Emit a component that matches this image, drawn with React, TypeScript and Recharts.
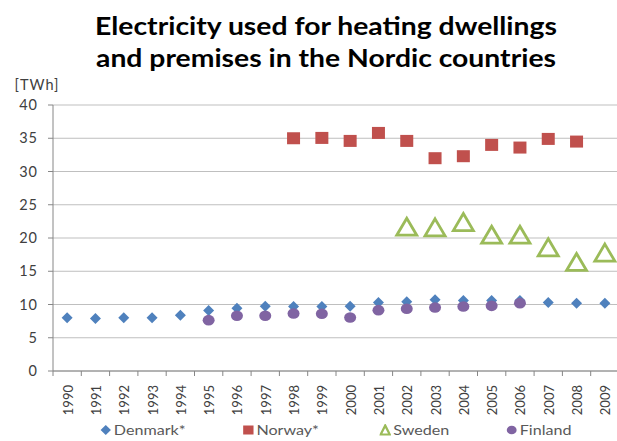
import React from 'react';
import { ComposedChart, Line, XAxis, YAxis, CartesianGrid, Legend } from 'recharts';

const years = ['1990', '1991', '1992', '1993', '1994', '1995', '1996', '1997', '1998', '1999',
  '2000', '2001', '2002', '2003', '2004', '2005', '2006', '2007', '2008', '2009'];

const denmark = [8.0, 7.9, 8.0, 8.0, 8.4, 9.1, 9.45, 9.75, 9.7, 9.7,
  9.75, 10.3, 10.4, 10.7, 10.6, 10.6, 10.6, 10.3, 10.2, 10.2];
const norway = [null, null, null, null, null, null, null, null, 35.0, 35.05,
  34.6, 35.8, 34.6, 32.0, 32.3, 34.0, 33.6, 34.9, 34.5, null];
const sweden = [null, null, null, null, null, null, null, null, null, null,
  null, null, 21.7, 21.6, 22.4, 20.5, 20.5, 18.6, 16.4, 17.8];
const finland = [null, null, null, null, null, 7.65, 8.3, 8.3, 8.65, 8.6,
  8.05, 9.15, 9.35, 9.55, 9.7, 9.8, 10.2, null, null, null];

const yTicks = [0, 5, 10, 15, 20, 25, 30, 35, 40];

const data = years.map((year, i) => ({
  year,
  denmark: denmark[i],
  norway: norway[i],
  sweden: sweden[i],
  finland: finland[i],
}));

const COLORS = {
  denmark: '#4f81bd',
  norway: '#c0504d',
  sweden: '#9bbb59',
  finland: '#8064a2',
};

const FONT = 'Lato, "Liberation Sans", sans-serif';
const AXIS = '#868686';

const DiamondDot = (p: any) => {
  if (p.cy == null || p.value == null) return <g key={p.key} />;
  const s = 5.5;
  return (
    <path key={p.key} d={`M${p.cx},${p.cy - s}L${p.cx + s},${p.cy}L${p.cx},${p.cy + s}L${p.cx - s},${p.cy}Z`}
      fill={COLORS.denmark} />
  );
};

const SquareDot = (p: any) => {
  if (p.cy == null || p.value == null) return <g key={p.key} />;
  return <rect key={p.key} x={p.cx - 6.5} y={p.cy - 6} width={13} height={12} fill={COLORS.norway} />;
};

const TriangleDot = (p: any) => {
  if (p.cy == null || p.value == null) return <g key={p.key} />;
  const w = 10;
  const h = 8.5;
  return (
    <path key={p.key} d={`M${p.cx},${p.cy - h}L${p.cx + w},${p.cy + h}L${p.cx - w},${p.cy + h}Z`}
      fill="none" stroke={COLORS.sweden} strokeWidth={2.8} strokeLinejoin="miter" />
  );
};

const CircleDot = (p: any) => {
  if (p.cy == null || p.value == null) return <g key={p.key} />;
  return <ellipse key={p.key} cx={p.cx} cy={p.cy} rx={6} ry={5.3} fill={COLORS.finland} />;
};

const YearTick = (props: any) => {
  const { x, y, payload } = props;
  const half = payload.offset || 14.15;
  return (
    <g>
      <line x1={x - half} y1={y} x2={x - half} y2={y + 5} stroke={AXIS} />
      <text x={x + 1} y={y + 14} dy="0.35em" transform={`rotate(-90, ${x + 1}, ${y + 14})`}
        textAnchor="end" fontSize={13} fontFamily={FONT} fill="#404040">
        {payload.value}
      </text>
    </g>
  );
};

const legendItems = [
  { name: 'Denmark*', key: 'denmark', w: 124 },
  { name: 'Norway*', key: 'norway', w: 119 },
  { name: 'Sweden', key: 'sweden', w: 110 },
  { name: 'Finland', key: 'finland', w: 70 },
];

const LegendIcon = ({ k }: { k: string }) => {
  if (k === 'denmark') return <svg width={10} height={12}><path d="M5,1L9.5,6L5,11L0.5,6Z" fill={COLORS.denmark} /></svg>;
  if (k === 'norway') return <svg width={10} height={12}><rect x={0.5} y={1.5} width={9} height={9} fill={COLORS.norway} /></svg>;
  if (k === 'sweden') return <svg width={10} height={12}><path d="M5,1.5L9,10.5L1,10.5Z" fill="none" stroke={COLORS.sweden} strokeWidth={2} /></svg>;
  return <svg width={10} height={12}><circle cx={5} cy={6} r={4.3} fill={COLORS.finland} /></svg>;
};

const LegendContent = () => (
  <div style={{
    display: 'flex', alignItems: 'center', fontFamily: FONT, fontSize: 14, color: '#595959',
    transform: 'scaleX(1.15)', transformOrigin: '0 0',
  }}>
    {legendItems.map((it) => (
      <div key={it.key} style={{ display: 'flex', alignItems: 'center', gap: 2, width: it.w }}>
        <LegendIcon k={it.key} />
        <span>{it.name}</span>
      </div>
    ))}
  </div>
);

const App: React.FC = () => {
  return (
    <div style={{ position: 'absolute', left: 0, top: 0, width: 617, height: 441, overflow: 'hidden', background: '#fff' }}>
      <div style={{
        position: 'absolute', left: 0, top: 10, width: 652, textAlign: 'center',
        fontFamily: FONT, fontWeight: 700, fontSize: 24, lineHeight: '32px', color: '#000',
        transform: 'scaleX(1.18)', transformOrigin: '326px 0',
      }}>
        Electricity used for heating dwellings<br />and premises in the Nordic countries
      </div>
      <ComposedChart width={640} height={441} data={data} margin={{ top: 105, right: 21, left: 0, bottom: 0 }}>
        <CartesianGrid vertical={false} stroke="#bfbfbf" />
        <XAxis dataKey="year" scale="band" height={50} axisLine={{ stroke: AXIS }} tickLine={false} tickSize={0} tickMargin={0}
          tick={<YearTick />} interval={0} />
        <YAxis width={53} domain={[0, 40]} ticks={yTicks} interval={0} axisLine={{ stroke: AXIS }}
          tickLine={{ stroke: AXIS }} tickSize={5} tickMargin={10}
          tick={{ fontSize: 14.5, fontFamily: FONT, fill: '#404040', letterSpacing: 1 }}
          label={{
            content: ({ viewBox }: any) => (
              <text x={viewBox.x + 37} y={viewBox.y - 15} textAnchor="middle" fontSize={14.5} letterSpacing={1}
                fontFamily={FONT} fill="#404040">
                [TWh]
              </text>
            ),
          }} />
        <Legend verticalAlign="bottom" height={20} content={<LegendContent />}
          wrapperStyle={{ left: 100, bottom: 0, width: 'auto' }} />
        <Line dataKey="denmark" name="Denmark*" stroke="none" dot={DiamondDot} activeDot={false} isAnimationActive={false} />
        <Line dataKey="finland" name="Finland" stroke="none" dot={CircleDot} activeDot={false} isAnimationActive={false} />
        <Line dataKey="norway" name="Norway*" stroke="none" dot={SquareDot} activeDot={false} isAnimationActive={false} />
        <Line dataKey="sweden" name="Sweden" stroke="none" dot={TriangleDot} activeDot={false} isAnimationActive={false} />
      </ComposedChart>
    </div>
  );
};

export default App;
